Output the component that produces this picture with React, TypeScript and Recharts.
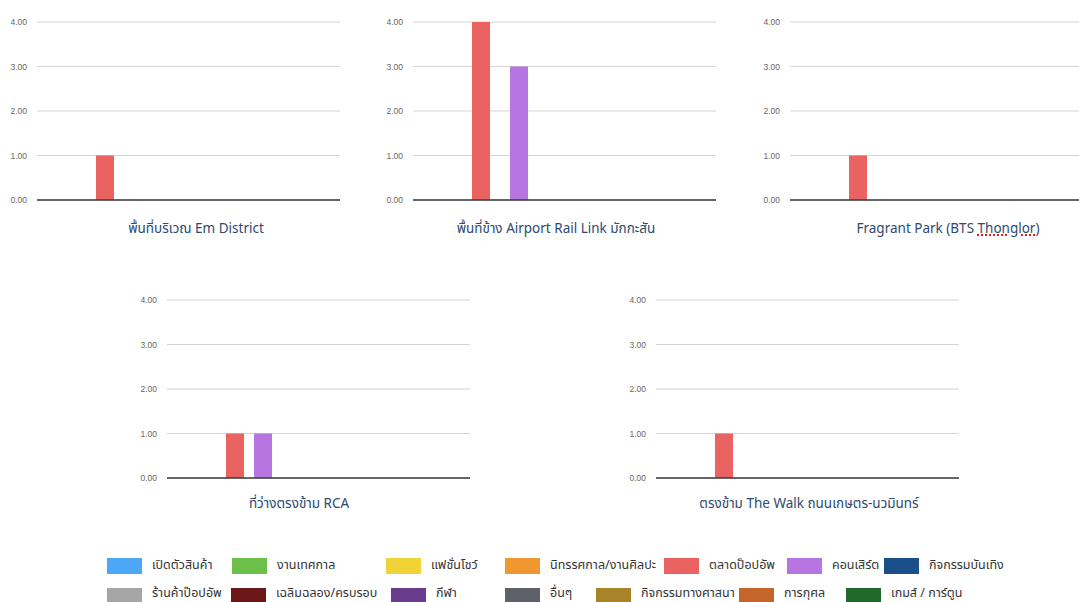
import React from "react";
import {
  Bar,
  BarChart,
  CartesianGrid,
  ReferenceLine,
  XAxis,
  YAxis,
} from "recharts";

// locations (one small chart each)
const locations = [
  "พื้นที่บริเวณ Em District",
  "พื้นที่ข้าง Airport Rail Link มักกะสัน",
  "Fragrant Park (BTS Thonglor)",
  "ที่ว่างตรงข้าม RCA",
  "ตรงข้าม The Walk ถนนเกษตร-นวมินทร์",
];

// series values per location
const popupMarket = [1, 4, 1, 1, 1]; // ตลาดป็อปอัพ
const concert = [0, 3, 0, 1, 0]; // คอนเสิร์ต

const yTicks = [0, 1, 2, 3, 4];

const legendLabels = [
  "เปิดตัวสินค้า",
  "งานเทศกาล",
  "แฟชั่นโชว์",
  "นิทรรศกาล/งานศิลปะ",
  "ตลาดป็อปอัพ",
  "คอนเสิร์ต",
  "กิจกรรมบันเทิง",
  "ร้านค้าป๊อปอัพ",
  "เฉลิมฉลอง/ครบรอบ",
  "กีฬา",
  "อื่นๆ",
  "กิจกรรมทางศาสนา",
  "การกุศล",
  "เกมส์ / การ์ตูน",
];

const legendColors = [
  "#4da6f6",
  "#6cc04a",
  "#f1d338",
  "#f0982f",
  "#ea6361",
  "#b675e0",
  "#1b4f8a",
  "#a5a5a5",
  "#6b1717",
  "#6a3c8e",
  "#5e6268",
  "#a8832a",
  "#c4652a",
  "#1f6a2b",
];

const FONT = "'Noto Sans Thai', 'Noto Sans', Arial, sans-serif";
const PLOT_W = 303;
const Y_W = 45;
const BAR = 18;

// panel placement
const panels = [
  { left: 37, top: 22, h: 178, gap: 20, titleX: 196, titleY: 229 },
  { left: 413, top: 22, h: 178, gap: 20, titleX: 556, titleY: 229 },
  { left: 790, top: 22, h: 178, gap: 20, titleX: 948, titleY: 229 },
  { left: 167, top: 300, h: 178, gap: 10, titleX: 299, titleY: 504 },
  { left: 656, top: 300, h: 178, gap: 20, titleX: 809, titleY: 504 },
];

const legendRows = [
  { top: 558, textY: 566, xs: [107, 232, 386, 505, 664, 787, 884] },
  { top: 588, textY: 594, xs: [107, 231, 391, 505, 596, 739, 846] },
];

function Title({ text, x, y }: { text: string; x: number; y: number }) {
  const mark = "Thonglor";
  const idx = text.indexOf(mark);
  return (
    <div
      style={{
        position: "absolute",
        left: x - 200,
        top: y - 10,
        width: 400,
        textAlign: "center",
        fontFamily: FONT,
        fontSize: 13.5,
        lineHeight: "20px",
        color: "#2e4a6e",
        whiteSpace: "nowrap",
      }}
    >
      {idx < 0 ? (
        text
      ) : (
        <>
          {text.slice(0, idx)}
          <span
            style={{
              textDecoration: "underline dotted #e02020",
              textDecorationThickness: 2,
            }}
          >
            {mark}
          </span>
          {text.slice(idx + mark.length)}
        </>
      )}
    </div>
  );
}

function Panel({ i }: { i: number }) {
  const p = panels[i];
  const data = [
    { name: locations[i], popup: popupMarket[i], concert: concert[i] },
  ];
  const group = BAR * 2 + p.gap;
  const padRight = PLOT_W - 118 - group;
  return (
    <div style={{ position: "absolute", left: p.left - Y_W, top: p.top - 10 }}>
      <BarChart
        width={PLOT_W + Y_W + 2}
        height={p.h + 16}
        data={data}
        margin={{ top: 10, right: 2, bottom: 6, left: 0 }}
        barGap={p.gap}
      >
        <CartesianGrid vertical={false} stroke="#d4d4d4" strokeWidth={1.2} />
        <XAxis dataKey="name" hide padding={{ left: 0, right: padRight }} />
        <YAxis
          domain={[0, 4]}
          ticks={yTicks}
          width={Y_W}
          axisLine={false}
          tickLine={false}
          tickSize={0}
          tickMargin={10}
          tickFormatter={(v: number) => v.toFixed(2)}
          tick={{ fontSize: 8.5, fill: "#666", fontFamily: "Arial, sans-serif" }}
        />
        <Bar
          dataKey="popup"
          fill={legendColors[4]}
          barSize={BAR}
          isAnimationActive={false}
        />
        <Bar
          dataKey="concert"
          fill={legendColors[5]}
          barSize={BAR}
          isAnimationActive={false}
        />
        <ReferenceLine y={0} stroke="#3a3a3a" strokeWidth={1.6} />
      </BarChart>
    </div>
  );
}

function Legend() {
  return (
    <>
      {legendLabels.map((label, k) => {
        const row = legendRows[k < 7 ? 0 : 1];
        const x = row.xs[k % 7];
        return (
          <React.Fragment key={label}>
            <div
              style={{
                position: "absolute",
                left: x,
                top: row.top,
                width: 35,
                height: 16,
                background: legendColors[k],
              }}
            />
            <div
              style={{
                position: "absolute",
                left: x + 45,
                top: row.textY - 9,
                lineHeight: "18px",
                fontFamily: FONT,
                fontSize: 12.5,
                color: "#333",
                whiteSpace: "nowrap",
              }}
            >
              {label}
            </div>
          </React.Fragment>
        );
      })}
    </>
  );
}

export default function App() {
  return (
    <div
      style={{
        position: "absolute",
        left: 0,
        top: 0,
        width: 1079,
        height: 602,
        overflow: "hidden",
        background: "#fff",
      }}
    >
      {locations.map((loc, i) => (
        <React.Fragment key={loc}>
          <Panel i={i} />
          <Title text={loc} x={panels[i].titleX} y={panels[i].titleY} />
        </React.Fragment>
      ))}
      <Legend />
    </div>
  );
}
